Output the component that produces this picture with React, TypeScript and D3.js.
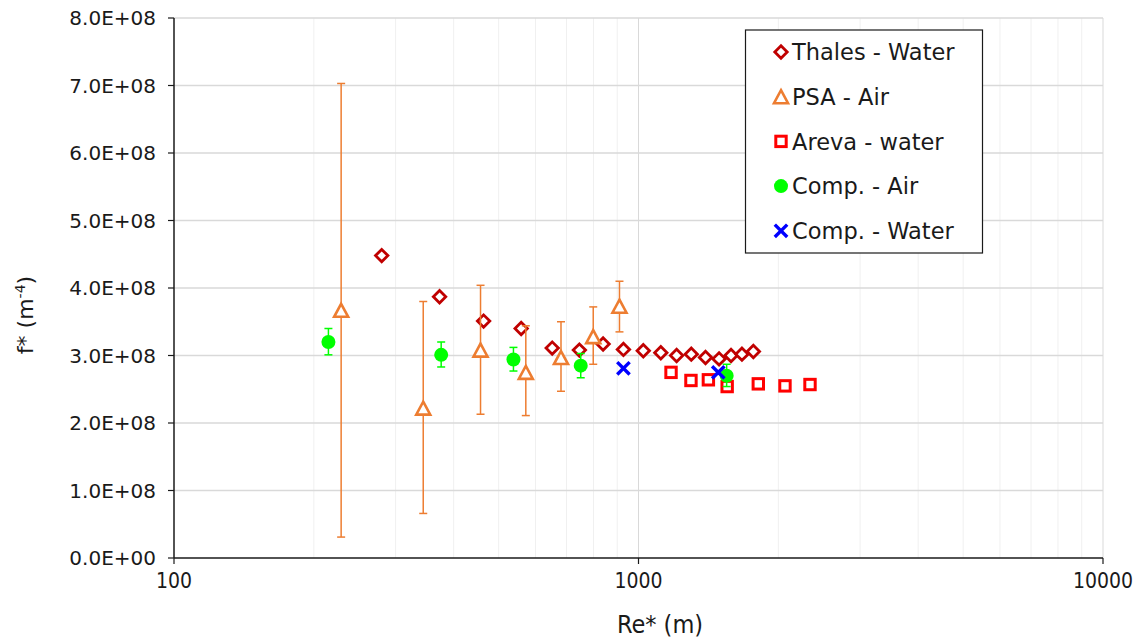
import * as d3 from "d3";

// Thales - Water
const thalesRe = [280, 373, 464, 559, 652, 746, 839, 928, 1024, 1117, 1208, 1299, 1394, 1491, 1582, 1670, 1767];
const thalesF = [4.48e8, 3.87e8, 3.51e8, 3.4e8, 3.11e8, 3.08e8, 3.17e8, 3.09e8, 3.07e8, 3.04e8, 3.0e8, 3.02e8, 2.97e8, 2.95e8, 3.0e8, 3.02e8, 3.06e8];

// PSA - Air (with error bars)
const psaRe = [229, 344, 457, 572, 681, 799, 910];
const psaF = [3.67e8, 2.22e8, 3.08e8, 2.75e8, 2.97e8, 3.28e8, 3.73e8];
const psaHi = [7.03e8, 3.8e8, 4.04e8, 3.44e8, 3.5e8, 3.72e8, 4.1e8];
const psaLo = [0.31e8, 0.66e8, 2.13e8, 2.11e8, 2.47e8, 2.87e8, 3.35e8];

// Areva - water
const arevaRe = [1175, 1297, 1414, 1552, 1811, 2067, 2340];
const arevaF = [2.75e8, 2.63e8, 2.64e8, 2.54e8, 2.58e8, 2.55e8, 2.57e8];

// Comp. - Air (with error bars)
const compAirRe = [215, 376, 538, 751, 1548];
const compAirF = [3.2e8, 3.01e8, 2.94e8, 2.85e8, 2.7e8];
const compAirHi = [3.4e8, 3.2e8, 3.12e8, 3.03e8, 2.87e8];
const compAirLo = [3.01e8, 2.83e8, 2.77e8, 2.67e8, 2.54e8];

// Comp. - Water
const compWaterRe = [928, 1485];
const compWaterF = [2.81e8, 2.75e8];

const yTicks = [0, 1e8, 2e8, 3e8, 4e8, 5e8, 6e8, 7e8, 8e8];
const xMajor = [100, 1000, 10000];

const legendLabels = ["Thales - Water", "PSA - Air", "Areva - water", "Comp. - Air", "Comp. - Water"];

const W = 1138;
const H = 639;
const left = 174;
const right = 1103;
const top = 18;
const bottom = 558;

const C_THALES = "#C00000";
const C_PSA = "#ED7D31";
const C_AREVA = "#FF0000";
const C_AIR = "#00FF00";
const C_WATER = "#0000FF";

const fmtE = (v: number) => {
  if (v === 0) return "0.0E+00";
  const e = Math.floor(Math.log10(v) + 1e-9);
  const m = v / Math.pow(10, e);
  return `${m.toFixed(1)}E+${String(e).padStart(2, "0")}`;
};

function Diamond({ cx, cy }: { cx: number; cy: number }) {
  const r = 6.2;
  return (
    <path
      d={`M${cx},${cy - r}L${cx + r},${cy}L${cx},${cy + r}L${cx - r},${cy}Z`}
      fill="#fff"
      stroke={C_THALES}
      strokeWidth={2.8}
    />
  );
}

function Triangle({ cx, cy }: { cx: number; cy: number }) {
  const w = 7;
  const h = 6.5;
  return (
    <path
      d={`M${cx},${cy - h}L${cx + w},${cy + h}L${cx - w},${cy + h}Z`}
      fill="#fff"
      stroke={C_PSA}
      strokeWidth={2.6}
    />
  );
}

function Square({ cx, cy }: { cx: number; cy: number }) {
  const r = 5.2;
  return <rect x={cx - r} y={cy - r} width={2 * r} height={2 * r} fill="#fff" stroke={C_AREVA} strokeWidth={3} />;
}

function Dot({ cx, cy }: { cx: number; cy: number }) {
  return <circle cx={cx} cy={cy} r={7} fill={C_AIR} />;
}

function Cross({ cx, cy }: { cx: number; cy: number }) {
  const r = 6.2;
  return (
    <path
      d={`M${cx - r},${cy - r}L${cx + r},${cy + r}M${cx - r},${cy + r}L${cx + r},${cy - r}`}
      stroke={C_WATER}
      strokeWidth={3.4}
      fill="none"
    />
  );
}

function ErrorBar({ x, y1, y2, color }: { x: number; y1: number; y2: number; color: string }) {
  const c = 4;
  return (
    <g stroke={color} strokeWidth={1.5} fill="none">
      <line x1={x} x2={x} y1={y1} y2={y2} />
      <line x1={x - c} x2={x + c} y1={y1} y2={y1} />
      <line x1={x - c} x2={x + c} y1={y2} y2={y2} />
    </g>
  );
}

export default function App() {
  const x = d3.scaleLog().domain([100, 10000]).range([left, right]);
  const y = d3.scaleLinear().domain([0, 8e8]).range([bottom, top]);

  const allXTicks = x.ticks();
  const minor = allXTicks.filter((t) => !xMajor.includes(t));

  const legendX = 745.5;
  const legendY = 30;
  const rowY = (i: number) => 52 + i * 44.7;
  const legendMarkers = [Diamond, Triangle, Square, Dot, Cross];

  return (
    <svg
      width={W}
      height={H}
      style={{ position: "absolute", left: 0, top: 0, background: "#fff" }}
      fontFamily="DejaVu Sans, Verdana, sans-serif"
    >
      <rect width={W} height={H} fill="#fff" />
      {/* gridlines */}
      {minor.map((t) => (
        <line key={"m" + t} x1={x(t)} x2={x(t)} y1={top} y2={bottom} stroke="#F0F0F0" strokeWidth={1} />
      ))}
      {xMajor.slice(1).map((t) => (
        <line key={"M" + t} x1={x(t)} x2={x(t)} y1={top} y2={bottom} stroke="#D9D9D9" strokeWidth={1} />
      ))}
      {yTicks.slice(1).map((t) => (
        <line key={"y" + t} x1={left} x2={right} y1={y(t)} y2={y(t)} stroke="#D9D9D9" strokeWidth={1.3} />
      ))}

      {/* axes */}
      <line x1={left} x2={left} y1={top} y2={bottom} stroke="#1a1a1a" strokeWidth={1.5} />
      <line x1={left} x2={right} y1={bottom} y2={bottom} stroke="#1a1a1a" strokeWidth={1.5} />
      {yTicks.map((t) => (
        <g key={"yt" + t}>
          <line x1={left - 6} x2={left} y1={y(t)} y2={y(t)} stroke="#1a1a1a" strokeWidth={1.2} />
          <text x={left - 18} y={y(t)} dy="0.35em" textAnchor="end" fontSize={20} fill="#1a1a1a">
            {fmtE(t)}
          </text>
        </g>
      ))}
      {xMajor.map((t) => (
        <g key={"xt" + t}>
          <line x1={x(t)} x2={x(t)} y1={bottom} y2={bottom + 6} stroke="#1a1a1a" strokeWidth={1.2} />
          <text
            x={x(t)}
            y={bottom + 30}
            textAnchor="middle"
            fontSize={21}
            fontFamily="DejaVu Sans Condensed, DejaVu Sans, sans-serif"
            fill="#1a1a1a"
          >
            {t}
          </text>
        </g>
      ))}

      {/* axis titles */}
      <text
        x={660}
        y={633}
        textAnchor="middle"
        fontSize={25}
        fontFamily="DejaVu Sans Condensed, DejaVu Sans, sans-serif"
        fill="#1a1a1a"
      >
        Re* (m)
      </text>
      <text transform="translate(33, 315) rotate(-90)" textAnchor="middle" fontSize={22} fill="#1a1a1a">
        f* (m<tspan dy="-8" fontSize={14}>-4</tspan>
        <tspan dy="8">)</tspan>
      </text>

      {/* series */}
      {thalesRe.map((r, i) => (
        <Diamond key={"th" + i} cx={x(r)} cy={y(thalesF[i])} />
      ))}
      {psaRe.map((r, i) => (
        <ErrorBar key={"pe" + i} x={x(r)} y1={y(psaHi[i])} y2={y(psaLo[i])} color={C_PSA} />
      ))}
      {psaRe.map((r, i) => (
        <Triangle key={"ps" + i} cx={x(r)} cy={y(psaF[i])} />
      ))}
      {arevaRe.map((r, i) => (
        <Square key={"ar" + i} cx={x(r)} cy={y(arevaF[i])} />
      ))}
      {compAirRe.map((r, i) => (
        <ErrorBar key={"ce" + i} x={x(r)} y1={y(compAirHi[i])} y2={y(compAirLo[i])} color={C_AIR} />
      ))}
      {compAirRe.map((r, i) => (
        <Dot key={"ca" + i} cx={x(r)} cy={y(compAirF[i])} />
      ))}
      {compWaterRe.map((r, i) => (
        <Cross key={"cw" + i} cx={x(r)} cy={y(compWaterF[i])} />
      ))}

      {/* legend */}
      <rect x={legendX} y={legendY} width={237} height={223} fill="#fff" stroke="#1a1a1a" strokeWidth={1.2} />
      {legendLabels.map((lab, i) => {
        const M = legendMarkers[i];
        return (
          <g key={"lg" + i}>
            <M cx={781} cy={rowY(i)} />
            <text x={792} y={rowY(i)} dy="0.36em" fontSize={22.5} fill="#1a1a1a">
              {lab}
            </text>
          </g>
        );
      })}
    </svg>
  );
}
